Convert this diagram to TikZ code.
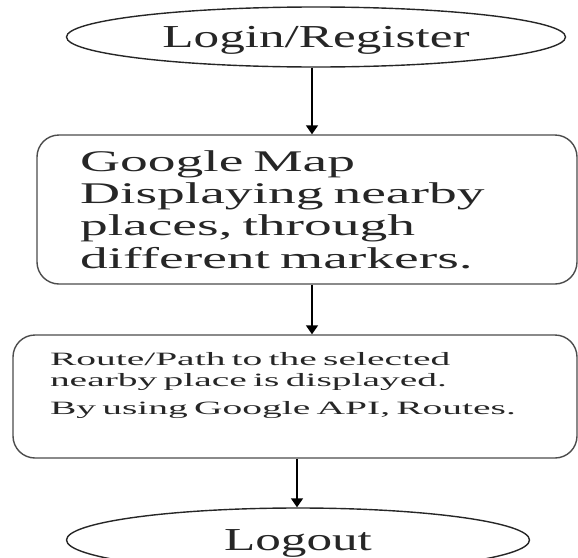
\documentclass[tikz,border=0pt]{standalone}
\usepackage{fontspec}
\setmainfont{Liberation Serif}
\newfontfamily\ovalfont[FakeStretch=1.6]{Liberation Serif}
\newfontfamily\mapfont[FakeStretch=1.85]{Liberation Serif}
\newfontfamily\routefont[FakeStretch=2.1]{Liberation Serif}
\usetikzlibrary{shapes.geometric,arrows.meta}
\begin{document}
\begin{tikzpicture}[x=1pt,y=-1pt,
  >={Triangle[length=9pt,width=12pt]},
  oval/.style={draw=black!85, line width=1.4pt, ellipse, inner sep=0pt, text depth=0pt, text=black!85, font=\ovalfont\fontsize{32}{38}\selectfont},
  stepbox/.style={draw=black!70, line width=1.4pt, rounded corners=22pt, align=left, inner ysep=0pt, text=black!85},
  flow/.style={->, line width=1.6pt}]
\useasboundingbox (0,0) rectangle (578,557);
% Inicio de sesion
\node[oval, minimum width=499pt, minimum height=60pt] (login) at (316,37) {Login/Register};
% Mapa con lugares cercanos
\node[stepbox, minimum width=540pt, minimum height=149pt, text width=454pt, inner xsep=43pt, font=\mapfont\fontsize{30}{32.3}\selectfont] (map) at (307,209.5) {Google Map\\ Displaying nearby\\ places, through\\ different markers.};
% Ruta al lugar elegido
\node[stepbox, minimum width=564pt, minimum height=123pt, text width=490pt, inner xsep=37pt, font=\routefont\fontsize{18.8}{21.5}\selectfont] (route) at (295,396.5) {Route/Path to the selected\\ nearby place is displayed.\\[6pt] By using Google API, Routes.\rule[-27pt]{0pt}{27pt}};
% Cierre de sesion
\node[oval, minimum width=463pt, minimum height=64pt] (logout) at (298,540) {Logout};
% Flechas
\draw[flow] ([xshift=5pt]map.north |- login.south) -- ([xshift=5pt]map.north);
\draw[flow] ([xshift=5pt]map.south) -- ([xshift=5pt]map.south |- route.north);
\draw[flow] ([xshift=2pt]route.south) -- ([xshift=2pt]route.south |- logout.north);
\end{tikzpicture}
\end{document}
